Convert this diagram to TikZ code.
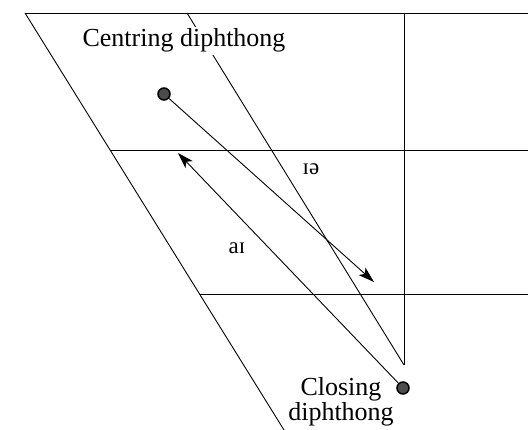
\documentclass[tikz,border=0pt]{standalone}
\usepackage{fontspec}
\setmainfont{Liberation Serif}
\usetikzlibrary{arrows.meta}
\begin{document}
\begin{tikzpicture}[x=1pt,y=-1pt,
  grid/.style={line width=0.9pt},
  arr/.style={line width=0.9pt,-{Stealth[length=16pt,width=10pt,inset=4pt]}},
  dot/.style={circle,draw=black,fill=black!70,line width=1.5pt,minimum size=12pt,inner sep=0pt},
  lbl/.style={font=\fontsize{26}{25}\selectfont,inner sep=2pt},
  ipa/.style={font=\fontsize{23}{23}\selectfont,inner sep=0pt}]
\useasboundingbox (0,0) rectangle (528,430);
% frame coordinates
\coordinate (tl) at (25,13);
\coordinate (tr) at (528,13);
\coordinate (bl) at (284,430);
\coordinate (ct) at (187,13);
\coordinate (cb) at (404,365);
\coordinate (vt) at (404,13);
\coordinate (ml) at (110,150);
\coordinate (mr) at (528,150);
\coordinate (ll) at (200,294);
\coordinate (lr) at (528,294);
\draw[grid] (tl) -- (tr);
\draw[grid] (tl) -- (bl);
\draw[grid] (ct) -- (cb);
\draw[grid] (vt) -- (cb);
\draw[grid] (ml) -- (mr);
\draw[grid] (ll) -- (lr);
% labels
\node[lbl,fill=white,anchor=base] (cen) at (184,47) {Centring diphthong};
\node[lbl,align=center,anchor=center] (clo) at (341,402) {Closing\\diphthong};
\node[ipa] (ie) at (311,169) {ɪə};
\node[ipa] (ai) at (237,248) {aɪ};
% dots and arrows
\node[dot] (d1) at (164,94) {};
\node[dot] (d2) at (403,388) {};
\coordinate (t1) at (374,282);
\coordinate (t2) at (178,153);
\draw[arr] (d1) -- (t1);
\draw[arr] (d2) -- (t2);
\end{tikzpicture}
\end{document}
